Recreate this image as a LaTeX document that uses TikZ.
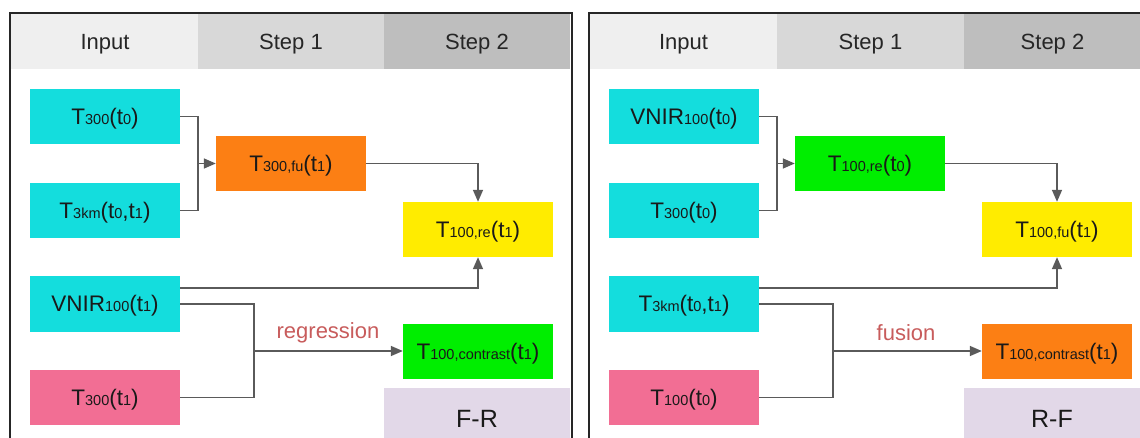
\documentclass[tikz,border=0pt]{standalone}
\usepackage{fontspec}
\setmainfont{Liberation Sans}
\usetikzlibrary{arrows.meta}
\definecolor{hIn}{RGB}{239,239,239}
\definecolor{hSa}{RGB}{216,216,216}
\definecolor{hSb}{RGB}{190,190,190}
\definecolor{cyanbox}{RGB}{20,221,221}
\definecolor{orangebox}{RGB}{252,127,20}
\definecolor{yellowbox}{RGB}{255,236,0}
\definecolor{greenbox}{RGB}{0,238,0}
\definecolor{pinkbox}{RGB}{242,110,148}
\definecolor{lavbox}{RGB}{226,216,232}
\definecolor{linegray}{RGB}{90,90,90}
\definecolor{labred}{RGB}{200,92,92}
\newcommand\smtxt[1]{{\fontsize{14.5}{14.5}\selectfont #1}}
\begin{document}
\begin{tikzpicture}[x=1pt,y=-1pt,
  hdr/.style={rectangle, inner sep=0, minimum height=56pt, text height=15.8pt, text depth=0pt, font=\fontsize{22}{22}\selectfont, text=black!85},
  databox/.style={rectangle, inner sep=0, minimum width=150pt, minimum height=55pt, text height=16pt, text depth=0pt, font=\fontsize{22.5}{22.5}\selectfont, text=black!90},
  tagbox/.style={rectangle, inner sep=0, fill=lavbox, text height=18pt, text depth=0pt, font=\fontsize{25}{25}\selectfont, text=black!90},
  conn/.style={draw=linegray, line width=1.6pt},
  arr/.style={conn, -{Triangle[length=12pt,width=10pt]}},
  lab/.style={font=\fontsize{22}{22}\selectfont, text=labred}
]
\useasboundingbox (0,0) rectangle (1140,438);
\fill[white] (0,0) rectangle (1140,438);

% ===== Left panel =====
\node[hdr, fill=hIn, minimum width=188pt] (lhin) at (105,41.5) {Input};
\node[hdr, fill=hSa, minimum width=186pt] (lhs1) at (291,41.5) {Step 1};
\node[hdr, fill=hSb, minimum width=186pt] (lhs2) at (477,41.5) {Step 2};
\draw[line width=2pt, black!85] (10,460) -- (10,13) -- (572,13) -- (572,460);

\node[databox, fill=cyanbox] (la) at (105,116.5) {T\smtxt{300}(t\smtxt{0})};
\node[databox, fill=cyanbox] (lb) at (105,210.5) {T\smtxt{3km}(t\smtxt{0},t\smtxt{1})};
\node[databox, fill=orangebox] (lc) at (291,163.5) {T\smtxt{300,fu}(t\smtxt{1})};
\node[databox, fill=yellowbox] (ld) at (478,229.5) {T\smtxt{100,re}(t\smtxt{1})};
\node[databox, fill=cyanbox] (le) at (105,304) {VNIR\smtxt{100}(t\smtxt{1})};
\node[databox, fill=pinkbox] (lf) at (105,397.5) {T\smtxt{300}(t\smtxt{1})};
\node[databox, fill=greenbox] (lg) at (478,351) {T\smtxt{100,contrast}(t\smtxt{1})};
\node[tagbox, minimum width=186pt, minimum height=60pt] (lh) at (477,418) {F-R};

\coordinate (lm1) at (198,163.5);
\coordinate (lm2) at (254,351);
\draw[conn] (la.east) -| (lm1) |- (lb.east);
\draw[arr] (lm1) -- (lc.west);
\draw[arr] (lc.east) -| (ld.north);
\draw[arr] ([yshift=16pt]le.east) -| (ld.south);
\draw[conn] (le.east) -| (lm2) |- (lf.east);
\draw[arr] (lm2) -- (lg.west);
\node[lab] (lreg) at (328,333) {regression};

% ===== Right panel =====
\node[hdr, fill=hIn, minimum width=187pt] (rhin) at (683.5,41.5) {Input};
\node[hdr, fill=hSa, minimum width=187pt] (rhs1) at (870.5,41.5) {Step 1};
\node[hdr, fill=hSb, minimum width=177pt] (rhs2) at (1052.5,41.5) {Step 2};
\draw[line width=2pt, black!85] (589,460) -- (589,13) -- (1150,13);

\node[databox, fill=cyanbox] (ra) at (684,116.5) {VNIR\smtxt{100}(t\smtxt{0})};
\node[databox, fill=cyanbox] (rb) at (684,210.5) {T\smtxt{300}(t\smtxt{0})};
\node[databox, fill=greenbox] (rc) at (870,163.5) {T\smtxt{100,re}(t\smtxt{0})};
\node[databox, fill=yellowbox] (rd) at (1057,229.5) {T\smtxt{100,fu}(t\smtxt{1})};
\node[databox, fill=cyanbox] (re) at (684,304) {T\smtxt{3km}(t\smtxt{0},t\smtxt{1})};
\node[databox, fill=pinkbox] (rf) at (684,397.5) {T\smtxt{100}(t\smtxt{0})};
\node[databox, fill=orangebox] (rg) at (1057,351) {T\smtxt{100,contrast}(t\smtxt{1})};
\node[tagbox, minimum width=176pt, minimum height=60pt] (rh) at (1052,418) {R-F};

\coordinate (rm1) at (777,163.5);
\coordinate (rm2) at (833,351);
\draw[conn] (ra.east) -| (rm1) |- (rb.east);
\draw[arr] (rm1) -- (rc.west);
\draw[arr] (rc.east) -| (rd.north);
\draw[arr] ([yshift=16pt]re.east) -| (rd.south);
\draw[conn] (re.east) -| (rm2) |- (rf.east);
\draw[arr] (rm2) -- (rg.west);
\node[lab] (rfus) at (906,333) {fusion};
\end{tikzpicture}
\end{document}
